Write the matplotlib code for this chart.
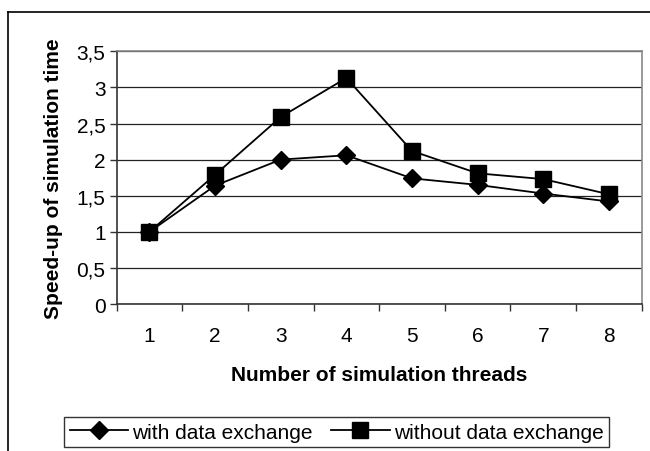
import matplotlib.pyplot as plt
from matplotlib.lines import Line2D

plt.rcParams['font.family'] = ['Liberation Sans', 'DejaVu Sans']

threads = [1, 2, 3, 4, 5, 6, 7, 8]
with_exchange = [1.0, 1.64, 2.0, 2.06, 1.74, 1.65, 1.53, 1.42]
without_exchange = [1.0, 1.79, 2.59, 3.13, 2.12, 1.81, 1.73, 1.52]
y_ticks = [0, 0.5, 1, 1.5, 2, 2.5, 3, 3.5]
y_labels = ['0', '0,5', '1', '1,5', '2', '2,5', '3', '3,5']

fig = plt.figure(figsize=(6.5, 4.52), dpi=100)
ax = fig.add_axes([0.1795, 0.3252, 0.8077, 0.5591])

# outer chart frame (only left and top visible in the picture)
fig.add_artist(Line2D([8/650, 8/650], [0, 1 - 13/452], color='black', lw=1.2))
fig.add_artist(Line2D([8/650, 1], [1 - 13/452, 1 - 13/452], color='black', lw=1.2))

ax.plot(threads, with_exchange, color='black', lw=1.3, marker='D', markersize=9,
        label='with data exchange')
ax.plot(threads, without_exchange, color='black', lw=1.3, marker='s', markersize=12,
        label='without data exchange')

ax.set_xlim(0.5, 8.5)
ax.set_ylim(0, 3.5)
ax.set_yticks(y_ticks)
ax.set_yticklabels(y_labels)
ax.set_xticks(threads)
ax.set_xticks([t + 0.5 for t in [0] + threads], minor=True)
ax.tick_params(axis='x', which='major', length=0, pad=16, labelsize=15)
ax.tick_params(axis='x', which='minor', length=5, width=1, color='#333333', direction='out')
ax.tick_params(axis='y', length=5, width=1, color='#333333', pad=3, labelsize=15)

ax.grid(axis='y', color='#222222', lw=0.9)
ax.set_axisbelow(True)
for s in ['top', 'right']:
    ax.spines[s].set_color('#888888')
    ax.spines[s].set_linewidth(1.2)
ax.spines['left'].set_color('#333333')
ax.spines['left'].set_linewidth(1.2)
ax.spines['bottom'].set_color('#333333')
ax.spines['bottom'].set_linewidth(1.2)

ax.set_xlabel('Number of simulation threads', fontsize=15, fontweight='bold', labelpad=14)
ax.set_ylabel('Speed-up of simulation time', fontsize=15, fontweight='bold', labelpad=10)

leg = fig.legend(loc='center', bbox_to_anchor=(0.5177, 0.042), ncol=2, fontsize=15,
                 frameon=True, fancybox=False, edgecolor='black', handlelength=2.8,
                 handletextpad=0.2, columnspacing=0.9, borderpad=0.25)
leg.get_frame().set_linewidth(1.0)

fig.savefig('out.png', dpi=100)
